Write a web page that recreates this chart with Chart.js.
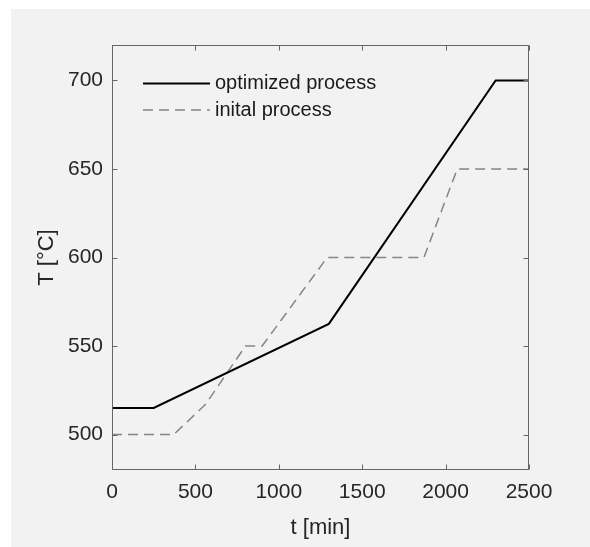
<!DOCTYPE html>
<html>
<head>
<meta charset="utf-8">
<script src="https://cdn.jsdelivr.net/npm/chart.js@4/dist/chart.umd.min.js"></script>
<style>
  html, body { margin: 0; padding: 0; background: #ffffff; }
  #frame { position: absolute; left: 11px; top: 9px; width: 579px; height: 538px; background: #f2f2f2; }
  #wrap { position: absolute; left: 0; top: 0; width: 590px; height: 547px; }
</style>
</head>
<body>
<div id="frame"></div>
<div id="wrap"><canvas id="c" width="590" height="547"></canvas></div>
<script>
// Temperature schedules (time in minutes, temperature in °C)
const optimizedTime = [0, 250, 1300, 2300, 2500];
const optimizedTemp = [515, 515, 562.5, 700, 700];
const initialTime = [0, 370, 560, 800, 900, 1290, 1870, 2070, 2500];
const initialTemp = [500, 500, 517, 550, 550, 600, 600, 650, 650];

const xTicks = [0, 500, 1000, 1500, 2000, 2500];
const yTicks = [500, 550, 600, 650, 700];
const seriesNames = ['optimized process', 'inital process'];

const pts = (xs, ys) => xs.map((x, i) => ({ x: x, y: ys[i] }));

const FONT = "'Liberation Sans', Arial, Helvetica, sans-serif";

// Box around the axes with inward tick marks on all four sides
const boxPlugin = {
  id: 'box',
  afterDatasetsDraw(chart) {
    const { ctx, chartArea: a, scales } = chart;
    const L = a.left + 0.5, R = a.right - 0.5, T = a.top + 0.5, B = a.bottom - 0.5;
    const len = 5;
    ctx.save();
    ctx.strokeStyle = '#666666';
    ctx.lineWidth = 1;
    ctx.strokeRect(L, T, R - L, B - T);
    ctx.beginPath();
    xTicks.forEach(v => {
      const px = Math.round(scales.x.getPixelForValue(v)) + 0.5;
      ctx.moveTo(px, B); ctx.lineTo(px, B - len);
      ctx.moveTo(px, T); ctx.lineTo(px, T + len);
    });
    yTicks.forEach(v => {
      const py = Math.round(scales.y.getPixelForValue(v)) + 0.5;
      ctx.moveTo(L, py); ctx.lineTo(L + len, py);
      ctx.moveTo(R, py); ctx.lineTo(R - len, py);
    });
    ctx.stroke();
    ctx.restore();
  }
};

// Legend drawn inside the axes, without a frame
const legendPlugin = {
  id: 'insideLegend',
  afterDraw(chart) {
    const { ctx, chartArea: a } = chart;
    const x0 = a.left + 31, x1 = a.left + 98, tx = a.left + 103;
    const rows = [a.top + 38.5, a.top + 65];
    ctx.save();
    chart.data.datasets.forEach((ds, i) => {
      ctx.beginPath();
      ctx.strokeStyle = ds.borderColor;
      ctx.lineWidth = ds.borderWidth;
      ctx.setLineDash(ds.borderDash || []);
      ctx.moveTo(x0, rows[i]); ctx.lineTo(x1, rows[i]);
      ctx.stroke();
      ctx.setLineDash([]);
      ctx.fillStyle = '#1a1a1a';
      ctx.font = '20px ' + FONT;
      ctx.textBaseline = 'middle';
      ctx.textAlign = 'left';
      ctx.fillText(ds.label, tx, rows[i]);
    });
    ctx.restore();
  }
};

new Chart(document.getElementById('c'), {
  type: 'line',
  data: {
    datasets: [
      {
        label: seriesNames[0],
        data: pts(optimizedTime, optimizedTemp),
        borderColor: '#000000',
        borderWidth: 2,
        pointRadius: 0,
        tension: 0,
        fill: false
      },
      {
        label: seriesNames[1],
        data: pts(initialTime, initialTemp),
        borderColor: '#858585',
        borderWidth: 1.5,
        borderDash: [10, 6],
        pointRadius: 0,
        tension: 0,
        fill: false
      }
    ]
  },
  options: {
    responsive: false,
    animation: false,
    devicePixelRatio: 1,
    layout: { padding: { left: 0, top: 45, right: 61, bottom: 0 } },
    plugins: { legend: { display: false }, tooltip: { enabled: false } },
    scales: {
      x: {
        type: 'linear',
        min: 0,
        max: 2500,
        afterBuildTicks: s => { s.ticks = xTicks.map(v => ({ value: v })); },
        afterFit: s => { s.height = 77; },
        grid: { display: false, drawTicks: false },
        border: { display: false },
        ticks: { color: '#262626', font: { family: FONT, size: 21 }, padding: 10, maxRotation: 0, autoSkip: false, callback: v => String(v) },
        title: { display: true, text: 't [min]', color: '#262626', font: { family: FONT, size: 22 }, padding: { top: 0, bottom: 6 } }
      },
      y: {
        type: 'linear',
        min: 480,
        max: 720,
        afterBuildTicks: s => { s.ticks = yTicks.map(v => ({ value: v })); },
        afterFit: s => { s.width = 112; },
        grid: { display: false, drawTicks: false },
        border: { display: false },
        ticks: { color: '#262626', font: { family: FONT, size: 21 }, padding: 9, autoSkip: false, callback: v => String(v) },
        title: { display: true, text: 'T [°C]', color: '#262626', font: { family: FONT, size: 22 }, padding: { top: 34, bottom: 0 } }
      }
    }
  },
  plugins: [boxPlugin, legendPlugin]
});
</script>
</body>
</html>
